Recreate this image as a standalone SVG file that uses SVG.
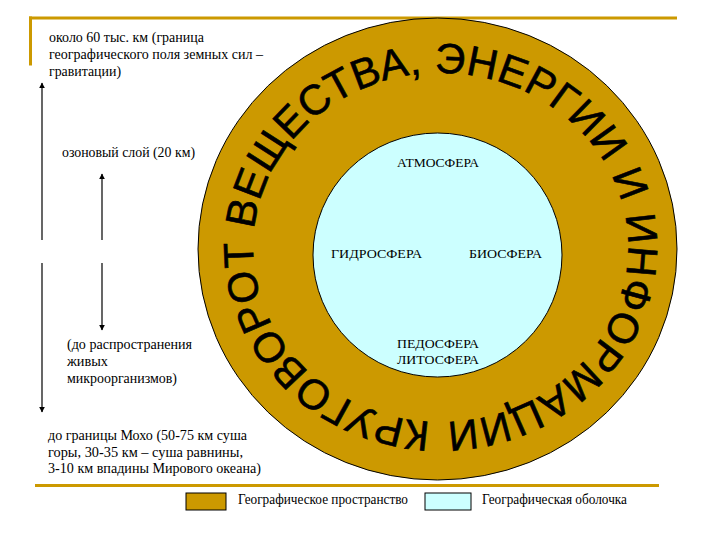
<svg xmlns="http://www.w3.org/2000/svg" width="720" height="540" viewBox="0 0 720 540">
<style>
.t{font-family:"Liberation Serif","Times New Roman",serif;font-size:14px;fill:#000}
.s{font-family:"Liberation Serif","Times New Roman",serif;font-size:13px;fill:#000}
.rule{fill:#CC9900}
.ln{stroke:#000;stroke-width:1.2;fill:none}
.ring{font-family:"Liberation Sans",Arial,sans-serif;font-size:42px;fill:#000;stroke:#000;stroke-width:0.6}
</style>
<defs>
<marker id="ah" viewBox="0 0 10 10" refX="9" refY="5" markerWidth="6" markerHeight="8" markerUnits="userSpaceOnUse" orient="auto">
<path d="M0,0 L10,5 L0,10 z" fill="#000"/>
</marker>
<path id="rp" d="M440.5,422 A187.5,174.5 0 1 1 440.5,73 A187.5,174.5 0 1 1 440.5,422"/>
</defs>
<rect width="720" height="540" fill="#fff"/>
<g id="frame">
<rect class="rule" x="29" y="16.5" width="648" height="3"/>
<rect class="rule" x="29" y="16.5" width="3" height="49"/>
<rect class="rule" x="35" y="484" width="624" height="3"/>
</g>
<g id="ring">
<ellipse cx="437.5" cy="249" rx="239.5" ry="231" fill="#CC9900" stroke="#000" stroke-width="1"/>
<text class="ring" textLength="1121" lengthAdjust="spacing"><textPath href="#rp" startOffset="10">КРУГОВОРОТ ВЕЩЕСТВА, ЭНЕРГИИ И ИНФОРМАЦИИ</textPath></text>
</g>
<g id="inner">
<ellipse cx="437.5" cy="255" rx="124.5" ry="122" fill="#CCFFFF" stroke="#000" stroke-width="1"/>
<text class="s" x="397" y="167" textLength="82" lengthAdjust="spacingAndGlyphs">АТМОСФЕРА</text>
<text class="s" x="331" y="258" textLength="91" lengthAdjust="spacingAndGlyphs">ГИДРОСФЕРА</text>
<text class="s" x="469" y="258" textLength="73" lengthAdjust="spacingAndGlyphs">БИОСФЕРА</text>
<text class="s" x="397" y="348" textLength="82" lengthAdjust="spacingAndGlyphs">ПЕДОСФЕРА</text>
<text class="s" x="397" y="364" textLength="82" lengthAdjust="spacingAndGlyphs">ЛИТОСФЕРА</text>
</g>
<g id="connectors">
<line class="ln" x1="42" y1="240" x2="42" y2="83" marker-end="url(#ah)"/>
<line class="ln" x1="42" y1="263" x2="42" y2="412" marker-end="url(#ah)"/>
<line class="ln" x1="102" y1="240" x2="102" y2="174" marker-end="url(#ah)"/>
<line class="ln" x1="102" y1="263" x2="102" y2="330" marker-end="url(#ah)"/>
</g>
<g id="label-top">
<text class="t" x="49" y="42" textLength="155" lengthAdjust="spacingAndGlyphs">около 60 тыс. км (граница</text>
<text class="t" x="49" y="59" textLength="214" lengthAdjust="spacingAndGlyphs">географического поля земных сил –</text>
<text class="t" x="49" y="76" textLength="72" lengthAdjust="spacingAndGlyphs">гравитации)</text>
</g>
<g id="label-ozone">
<text class="t" x="62" y="157" textLength="133" lengthAdjust="spacingAndGlyphs">озоновый слой (20 км)</text>
</g>
<g id="label-micro">
<text class="t" x="67" y="349" textLength="125" lengthAdjust="spacingAndGlyphs">(до распространения</text>
<text class="t" x="67" y="366" textLength="41" lengthAdjust="spacingAndGlyphs">живых</text>
<text class="t" x="67" y="383" textLength="110" lengthAdjust="spacingAndGlyphs">микроорганизмов)</text>
</g>
<g id="label-moho">
<text class="t" x="48" y="440" textLength="199" lengthAdjust="spacingAndGlyphs">до границы Мохо (50-75 км суша</text>
<text class="t" x="48" y="457" textLength="195" lengthAdjust="spacingAndGlyphs">горы,  30-35 км – суша равнины,</text>
<text class="t" x="48" y="473" textLength="213" lengthAdjust="spacingAndGlyphs">3-10 км впадины Мирового океана)</text>
</g>
<g id="legend">
<rect x="186" y="493" width="40" height="17" fill="#CC9900" stroke="#000" stroke-width="1"/>
<text class="t" x="238" y="504" textLength="170" lengthAdjust="spacingAndGlyphs">Географическое пространство</text>
<rect x="425" y="493" width="46" height="17" fill="#CCFFFF" stroke="#000" stroke-width="1"/>
<text class="t" x="482" y="504" textLength="145" lengthAdjust="spacingAndGlyphs">Географическая оболочка</text>
</g>
</svg>
